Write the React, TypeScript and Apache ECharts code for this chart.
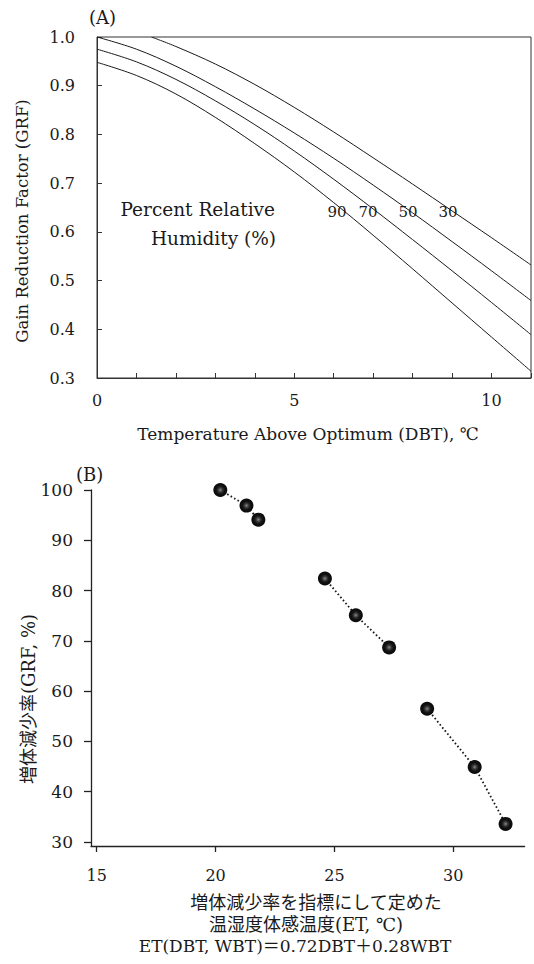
import React, { useEffect, useRef } from "react";
import * as echarts from "echarts";

// ---- Panel (A) data: GRF vs temperature above optimum, by relative humidity ----
const dbtX = [0, 1, 2, 3, 4, 5, 6, 7, 8, 9, 10, 11];
const grfRH90 = [0.948, 0.921, 0.883, 0.835, 0.781, 0.723, 0.66, 0.593, 0.524, 0.454, 0.384, 0.314];
const grfRH70 = [0.975, 0.949, 0.913, 0.869, 0.82, 0.766, 0.708, 0.647, 0.584, 0.52, 0.455, 0.389];
const grfRH50 = [1.0, 0.975, 0.94, 0.898, 0.852, 0.803, 0.751, 0.696, 0.639, 0.58, 0.52, 0.459];
const dbtX30 = [1.38, 2, 3, 4, 5, 6, 7, 8, 9, 10, 11];
const grfRH30 = [1.0, 0.9805, 0.9445, 0.9025, 0.8555, 0.805, 0.752, 0.698, 0.643, 0.588, 0.532];
const rhLabels = ["90", "70", "50", "30"];
const xTicksA = [0, 5, 10];

// ---- Panel (B) data: GRF (%) vs ET ----
const etA = [20.2, 21.3, 21.8];
const grfA = [100, 96.9, 94.1];
const etB = [24.6, 25.9, 27.3];
const grfB = [82.4, 75.1, 68.7];
const etC = [28.9, 30.9, 32.2];
const grfC = [56.5, 44.9, 33.6];
const xTicksB = [15, 20, 25, 30];
const yTicksB = [30, 40, 50, 60, 70, 80, 90, 100];

const FONT = "'DejaVu Serif', 'Noto Sans CJK JP', serif";
const INK = "#1a1a1a";

const zip = (xs: number[], ys: number[]) => xs.map((x, i) => [x, ys[i]]);

export default function App() {
  const ref = useRef<HTMLDivElement>(null);
  useEffect(() => {
    if (!ref.current) return;
    const chart = echarts.init(ref.current, null, { renderer: "svg" });

    const curve = (data: number[][]) => ({
      type: "line",
      xAxisIndex: 0,
      yAxisIndex: 0,
      data,
      smooth: 0.35,
      showSymbol: false,
      symbol: "none",
      lineStyle: { color: INK, width: 1 },
      silent: true,
    });

    const dots = (data: number[][]) => ({
      type: "line",
      xAxisIndex: 1,
      yAxisIndex: 1,
      data,
      symbol: "circle",
      symbolSize: 14,
      showSymbol: true,
      lineStyle: { color: INK, width: 1.8, type: [1.6, 2.4] },
      itemStyle: {
        color: {
          type: "radial",
          x: 0.5,
          y: 0.5,
          r: 0.5,
          colorStops: [
            { offset: 0, color: "#8a8a8a" },
            { offset: 0.3, color: "#3a3a3a" },
            { offset: 0.6, color: "#111" },
            { offset: 1, color: "#0a0a0a" },
          ],
        },
        borderWidth: 0,
      },
      silent: true,
    });

    const labelA = (text: string, x: number) => ({
      type: "text",
      x,
      y: 212,
      style: { text, font: `15px ${FONT}`, fill: INK, textAlign: "center", textVerticalAlign: "middle" },
    });

    chart.setOption({
      animation: false,
      backgroundColor: "#fff",
      textStyle: { fontFamily: FONT, color: INK },
      grid: [
        { left: 97, top: 37, width: 434, height: 341, show: true, borderColor: "#333", borderWidth: 1, backgroundColor: "transparent" },
        { left: 91, top: 490, width: 433.6, height: 356 },
      ],
      xAxis: [
        {
          type: "value",
          gridIndex: 0,
          min: 0,
          max: 11,
          interval: 1,
          axisLine: { show: true, lineStyle: { color: "#333", width: 1 } },
          axisTick: { show: true, inside: true, length: 5, lineStyle: { color: "#333" } },
          axisLabel: { customValues: xTicksA, margin: 14, fontSize: 16, fontFamily: FONT, color: INK },
          splitLine: { show: false },
        },
        {
          type: "value",
          gridIndex: 1,
          min: 14.76,
          max: 33,
          axisLine: { show: true, lineStyle: { color: "#222", width: 1.3 } },
          axisTick: { show: true, customValues: xTicksB, inside: false, length: 6, lineStyle: { color: "#222", width: 1.3 } },
          axisLabel: { customValues: xTicksB, margin: 21, fontSize: 16, fontFamily: FONT, color: INK },
          splitLine: { show: false },
        },
      ],
      yAxis: [
        {
          type: "value",
          gridIndex: 0,
          min: 0.3,
          max: 1.0,
          interval: 0.1,
          axisLine: { show: true, lineStyle: { color: "#333", width: 1 } },
          axisTick: { show: true, inside: true, length: 5, lineStyle: { color: "#333" } },
          axisLabel: { formatter: (v: number) => v.toFixed(1), margin: 22, fontSize: 16, fontFamily: FONT, color: INK },
          splitLine: { show: false },
        },
        {
          type: "value",
          gridIndex: 1,
          min: 29.2,
          max: 100,
          axisLine: { show: true, lineStyle: { color: "#222", width: 1.3 } },
          axisTick: { show: true, customValues: yTicksB, inside: false, length: 7, lineStyle: { color: "#222", width: 1.3 } },
          axisLabel: { customValues: yTicksB, margin: 18, fontSize: 17, fontFamily: FONT, color: INK },
          splitLine: { show: false },
        },
      ],
      series: [
        curve(zip(dbtX, grfRH90)),
        curve(zip(dbtX, grfRH70)),
        curve(zip(dbtX, grfRH50)),
        curve(zip(dbtX30, grfRH30)),
        dots(zip(etA, grfA)),
        dots(zip(etB, grfB)),
        dots(zip(etC, grfC)),
      ],
      graphic: [
        { type: "text", x: 89, y: 17, style: { text: "(A)", font: `18px ${FONT}`, fill: INK, textVerticalAlign: "middle" } },
        {
          type: "text",
          x: 22,
          y: 221,
          rotation: Math.PI / 2,
          style: { text: "Gain Reduction Factor (GRF)", font: `16.5px ${FONT}`, fill: INK, textAlign: "center", textVerticalAlign: "middle" },
        },
        {
          type: "text",
          x: 308,
          y: 434,
          style: { text: "Temperature Above Optimum (DBT), \u2103", font: `17px ${FONT}`, fill: INK, textAlign: "center", textVerticalAlign: "middle" },
        },
        { type: "text", x: 275, y: 209, style: { text: "Percent Relative", font: `18.5px ${FONT}`, fill: INK, textAlign: "right", textVerticalAlign: "middle" } },
        { type: "text", x: 276, y: 238, style: { text: "Humidity (%)", font: `18.5px ${FONT}`, fill: INK, textAlign: "right", textVerticalAlign: "middle" } },
        labelA(rhLabels[0], 337),
        labelA(rhLabels[1], 368),
        labelA(rhLabels[2], 408),
        labelA(rhLabels[3], 448),
        { type: "text", x: 76, y: 474, style: { text: "(B)", font: `18px ${FONT}`, fill: INK, textVerticalAlign: "middle" } },
        {
          type: "text",
          x: 28,
          y: 699,
          rotation: Math.PI / 2,
          style: { text: "増体減少率(GRF, %)", font: `18px ${FONT}`, fill: INK, textAlign: "center", textVerticalAlign: "middle" },
        },
        { type: "text", x: 316, y: 902, style: { text: "増体減少率を指標にして定めた", font: `18px ${FONT}`, fill: INK, textAlign: "center", textVerticalAlign: "middle" } },
        { type: "text", x: 306, y: 924, style: { text: "温湿度体感温度(ET, \u2103)", font: `18px ${FONT}`, fill: INK, textAlign: "center", textVerticalAlign: "middle" } },
        { type: "text", x: 295, y: 946, style: { text: "ET(DBT, WBT)\uFF1D0.72DBT\uFF0B0.28WBT", font: `17px ${FONT}`, fill: INK, textAlign: "center", textVerticalAlign: "middle" } },
      ],
    });
    return () => chart.dispose();
  }, []);
  return (
    <div
      ref={ref}
      style={{ position: "fixed", left: 0, top: 0, width: 534, height: 964, background: "#fff" }}
    />
  );
}
